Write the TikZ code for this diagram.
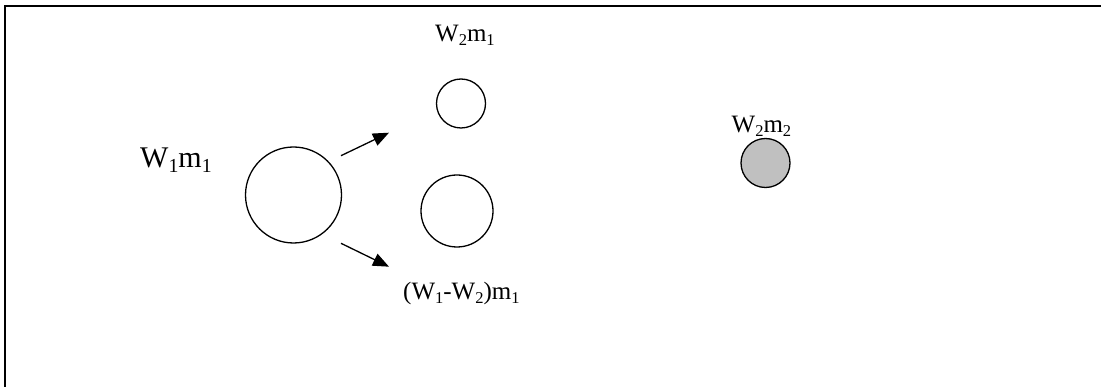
\documentclass[tikz,border=0pt]{standalone}
\usepackage{fontspec}
\setmainfont{Liberation Serif}
\usetikzlibrary{arrows.meta}
\definecolor{ballgray}{RGB}{192,192,192}
\makeatletter
\newcommand{\lowsub}[1]{\raisebox{-0.16em}{\fontsize{\dimexpr0.66\dimexpr\f@size pt\relax\relax}{0pt}\selectfont #1}}
\makeatother
\begin{document}
\begin{tikzpicture}[x=1pt,y=-1pt,
  ball/.style={circle,draw=black,line width=1.3pt,inner sep=0pt,minimum size=#1},
  lbl/.style={anchor=base west,inner sep=0pt,font=\fontsize{25}{30}\selectfont},
  biglbl/.style={anchor=base west,inner sep=0pt,font=\fontsize{30}{36}\selectfont},
  arr/.style={line width=1.3pt,-{Triangle[length=16pt,width=13pt]}}]
\useasboundingbox (0,0) rectangle (1101,387);
\fill[white] (0,0) rectangle (1101,387);
\draw[line width=2pt] (4,6.5) -- (1101,6.5);
\draw[line width=2pt] (5,6.5) -- (5,387);
\node[ball=96pt] (a) at (293.5,195) {};
\node[ball=49pt] (b) at (461,103.5) {};
\node[ball=72pt] (c) at (457,211) {};
\node[ball=49pt,fill=ballgray] (d) at (765.5,163) {};
\coordinate (a1) at (341,155.7);
\coordinate (b1) at (389,132.7);
\coordinate (a2) at (341,243.3);
\coordinate (c1) at (389,266.7);
\draw[arr] (a1) -- (b1);
\draw[arr] (a2) -- (c1);
\node[biglbl] (la) at (140,168) {W\lowsub{1}m\lowsub{1}};
\node[lbl] (lb) at (435,41.7) {W\lowsub{2}m\lowsub{1}};
\node[lbl] (lc) at (403,300) {(W\lowsub{1}-W\lowsub{2})m\lowsub{1}};
\node[lbl] (ld) at (731.5,133) {W\lowsub{2}m\lowsub{2}};
\end{tikzpicture}
\end{document}
